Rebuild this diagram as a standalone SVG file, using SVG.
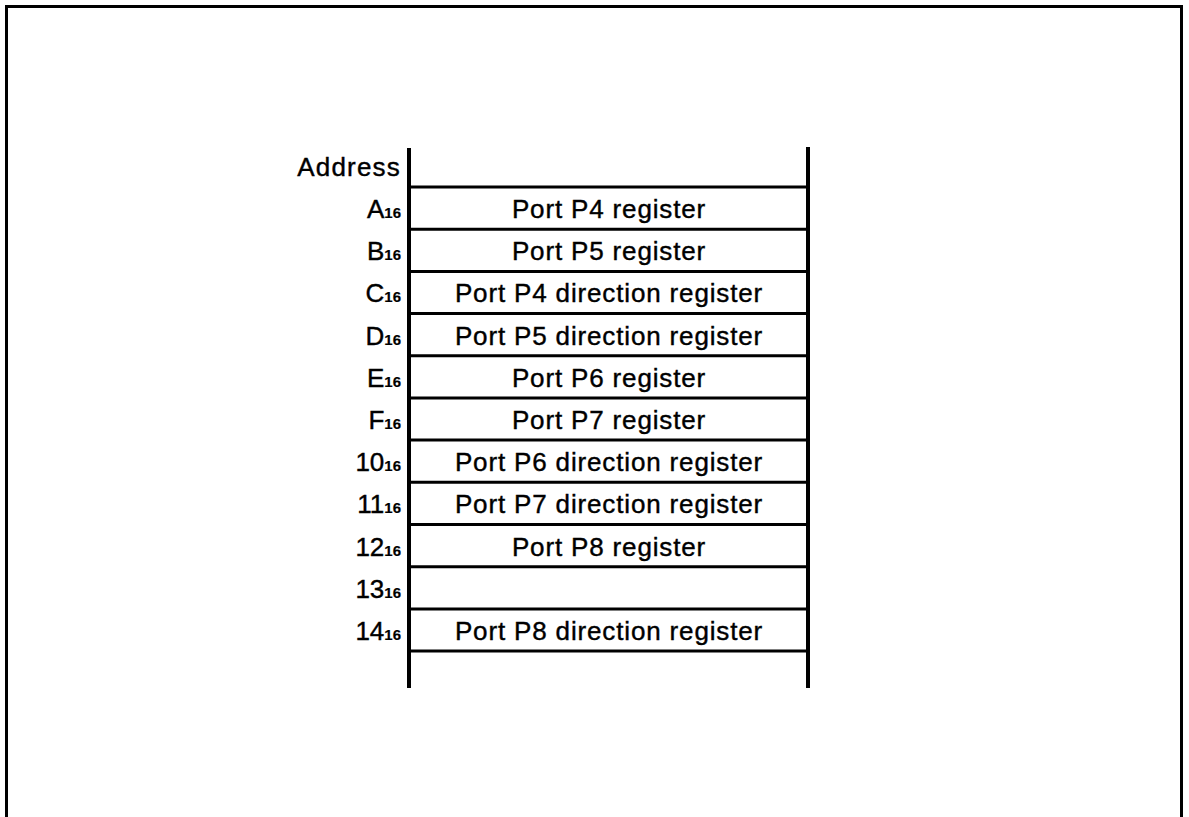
<svg xmlns="http://www.w3.org/2000/svg" width="1189" height="817" viewBox="0 0 1189 817">
<style>
.frame{fill:none;stroke:#000;stroke-width:3}
.vl{stroke:#000;stroke-width:4;fill:none}
.hl{stroke:#000;stroke-width:3;fill:none}
.lbl{font-family:"Liberation Sans",Arial,sans-serif;font-size:26px;fill:#000;stroke:#000;stroke-width:0.4;text-anchor:end}
.addr{letter-spacing:1.2px}
.sub{font-size:15px;font-weight:bold;stroke-width:0.2}
.reg{font-family:"Liberation Sans",Arial,sans-serif;font-size:26px;fill:#000;stroke:#000;stroke-width:0.4;text-anchor:middle;letter-spacing:0.85px}
</style>
<rect width="1189" height="817" fill="#fff"/>
<path class="frame" d="M6.5,817 V6.5 H1181.5 V817"/>
<g id="connectors">
<line class="vl" x1="409" y1="148" x2="409" y2="688"/>
<line class="vl" x1="808" y1="147" x2="808" y2="688"/>
<line class="hl" x1="409" y1="187" x2="808" y2="187"/>
<line class="hl" x1="409" y1="229.2" x2="808" y2="229.2"/>
<line class="hl" x1="409" y1="271.4" x2="808" y2="271.4"/>
<line class="hl" x1="409" y1="313.6" x2="808" y2="313.6"/>
<line class="hl" x1="409" y1="355.7" x2="808" y2="355.7"/>
<line class="hl" x1="409" y1="397.9" x2="808" y2="397.9"/>
<line class="hl" x1="409" y1="440.1" x2="808" y2="440.1"/>
<line class="hl" x1="409" y1="482.3" x2="808" y2="482.3"/>
<line class="hl" x1="409" y1="524.5" x2="808" y2="524.5"/>
<line class="hl" x1="409" y1="566.7" x2="808" y2="566.7"/>
<line class="hl" x1="409" y1="608.9" x2="808" y2="608.9"/>
<line class="hl" x1="409" y1="651" x2="808" y2="651"/>
</g>
<g id="header"><text class="lbl addr" x="401" y="176">Address</text></g>
<g id="rowA"><text class="lbl" x="401" y="218">A<tspan class="sub">16</tspan></text><text class="reg" x="609" y="218">Port P4 register</text></g>
<g id="rowB"><text class="lbl" x="401" y="260.2">B<tspan class="sub">16</tspan></text><text class="reg" x="609" y="260.2">Port P5 register</text></g>
<g id="rowC"><text class="lbl" x="401" y="302.4">C<tspan class="sub">16</tspan></text><text class="reg" x="609" y="302.4">Port P4 direction register</text></g>
<g id="rowD"><text class="lbl" x="401" y="344.6">D<tspan class="sub">16</tspan></text><text class="reg" x="609" y="344.6">Port P5 direction register</text></g>
<g id="rowE"><text class="lbl" x="401" y="386.7">E<tspan class="sub">16</tspan></text><text class="reg" x="609" y="386.7">Port P6 register</text></g>
<g id="rowF"><text class="lbl" x="401" y="428.9">F<tspan class="sub">16</tspan></text><text class="reg" x="609" y="428.9">Port P7 register</text></g>
<g id="row10"><text class="lbl" x="401" y="471.1">10<tspan class="sub">16</tspan></text><text class="reg" x="609" y="471.1">Port P6 direction register</text></g>
<g id="row11"><text class="lbl" x="401" y="513.3">11<tspan class="sub">16</tspan></text><text class="reg" x="609" y="513.3">Port P7 direction register</text></g>
<g id="row12"><text class="lbl" x="401" y="555.5">12<tspan class="sub">16</tspan></text><text class="reg" x="609" y="555.5">Port P8 register</text></g>
<g id="row13"><text class="lbl" x="401" y="597.7">13<tspan class="sub">16</tspan></text></g>
<g id="row14"><text class="lbl" x="401" y="639.9">14<tspan class="sub">16</tspan></text><text class="reg" x="609" y="639.9">Port P8 direction register</text></g>
</svg>
